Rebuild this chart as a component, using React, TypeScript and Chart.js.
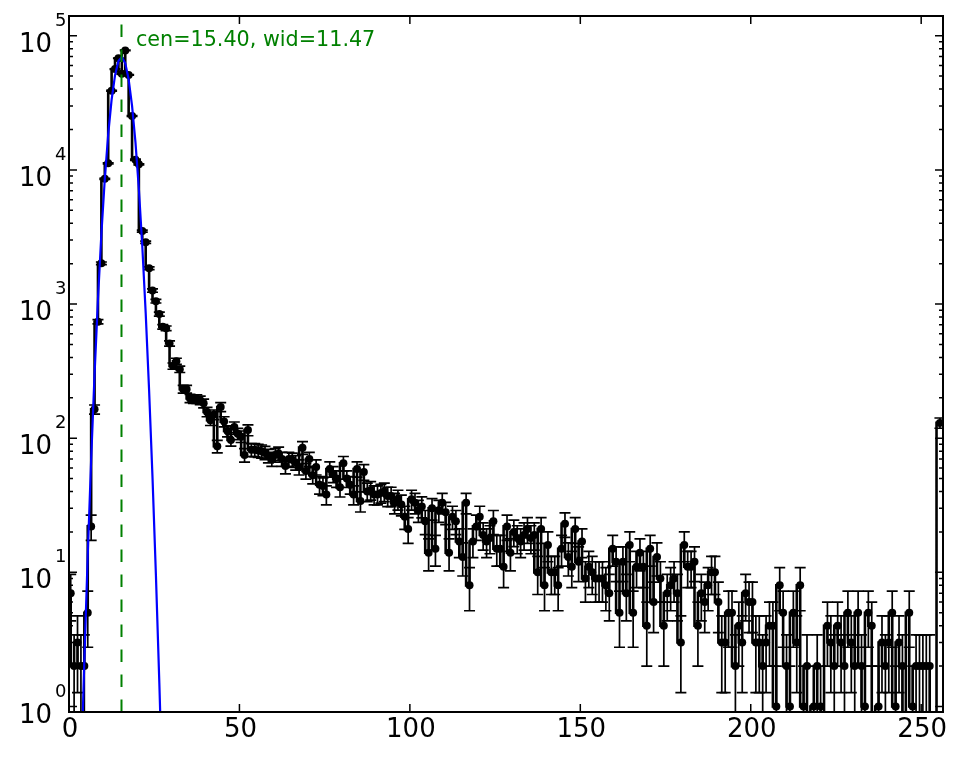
import React, { useEffect, useRef } from "react";
import { Chart, registerables } from "chart.js";

Chart.register(...registerables);

// Histogram counts per bin (bins 0..255)
const counts: number[] = [
  7, 2, 3, 2, 2, 5, 22, 164, 738, 2013,
  8570, 11200, 38900, 56400, 68000, 52000, 77700, 51000, 25200, 11900,
  11000, 3500, 2890, 1850, 1260, 1050, 842, 676, 660, 509,
  345, 375, 327, 232, 232, 198, 196, 196, 192, 182,
  157, 136, 150, 87, 171, 133, 113, 97, 121, 108,
  103, 75, 115, 82, 82, 81, 80, 78, 74, 70,
  75, 77, 70, 62, 70, 69, 66, 61, 85, 57,
  70, 53, 61, 45, 44, 38, 59, 54, 50, 43,
  65, 50, 45, 38, 59, 34, 56, 40, 41, 38,
  38, 39, 40, 37, 37, 33, 35, 32, 26, 21,
  35, 33, 29, 31, 24, 14, 30, 15, 29, 33,
  28, 14, 26, 24, 17, 13, 33, 8, 17, 22,
  26, 19, 17, 18, 24, 15, 15, 11, 22, 14,
  20, 18, 17, 19, 21, 18, 19, 10, 21, 8,
  16, 10, 10, 8, 15, 23, 13, 11, 21, 12,
  17, 9, 11, 10, 9, 9, 9, 8, 7, 15,
  12, 5, 12, 7, 16, 5, 11, 14, 11, 4,
  15, 6, 13, 9, 4, 7, 8, 9, 7, 3,
  16, 11, 11, 12, 4, 7, 6, 8, 10, 10,
  6, 3, 3, 5, 5, 2, 4, 3, 7, 6,
  6, 3, 3, 2, 3, 4, 4, 1, 8, 5,
  2, 1, 5, 3, 8, 1, 2, 0, 1, 2,
  1, 0, 4, 3, 2, 4, 3, 2, 5, 3,
  2, 5, 2, 1, 5, 4, 0, 1, 3, 2,
  3, 5, 1, 3, 2, 0, 5, 1, 2, 2,
  2, 2, 2, 0, 0, 130,
];

// bin centres
const binCenters: number[] = counts.map((_, i) => i + 0.5);
// Poisson error bars
const errors: number[] = counts.map((n) => Math.sqrt(n));

// Gaussian fit curve (blue), sampled at bin centres
const fitX: number[] = [
  3.5, 4.5, 5.5, 6.5, 7.5, 8.5, 9.5, 10.5, 11.5, 12.5, 13.5, 14.5, 15.5,
  16.5, 17.5, 18.5, 19.5, 20.5, 21.5, 22.5, 23.5, 24.5, 25.5, 26.5, 27.5,
];
const fitValues: number[] = [
  0.3, 2.2, 13.5, 69.5, 301, 1093, 3338, 8557, 18426, 33340, 50660, 64670,
  69340, 62450, 47250, 30020, 16030, 7185, 2708, 856, 227, 50.8, 9.5, 1.5, 0.2,
];

const fitCenter = 15.4;
const fitLabel = "cen=15.40, wid=11.47";

const xTicks: number[] = [0, 50, 100, 150, 200, 250];
const yDecades: number[] = [0, 1, 2, 3, 4, 5];

const X_MIN = 0;
const X_MAX = 256.4;
const Y_MIN = 0.91;
const Y_MAX = 140300;
const LOG_FLOOR = 0.01; // where empty bins are drawn (below the axis)

const FONT = '"DejaVu Sans", "Liberation Sans", sans-serif';

const decorPlugin = {
  id: "decor",
  beforeDatasetsDraw(chart: any) {
    const { ctx, chartArea: a, scales } = chart;
    const xs = scales.x;
    const ys = scales.y;
    const CAP = 5.5;
    ctx.save();
    ctx.beginPath();
    ctx.rect(a.left, a.top, a.right - a.left, a.bottom - a.top);
    ctx.clip();
    ctx.strokeStyle = "#000";
    ctx.lineWidth = 1.7;
    counts.forEach((n, i) => {
      if (n <= 0) return;
      const e = errors[i];
      const px = xs.getPixelForValue(binCenters[i]);
      const hi = ys.getPixelForValue(n + e);
      const lowVal = n - e;
      const lo = lowVal > 0 ? ys.getPixelForValue(lowVal) : a.bottom + 20;
      ctx.beginPath();
      ctx.moveTo(px, lo);
      ctx.lineTo(px, hi);
      ctx.moveTo(px - CAP, hi);
      ctx.lineTo(px + CAP, hi);
      if (lowVal > 0) {
        ctx.moveTo(px - CAP, lo);
        ctx.lineTo(px + CAP, lo);
      }
      ctx.stroke();
    });
    ctx.restore();
  },
  afterDatasetsDraw(chart: any) {
    const { ctx, chartArea: a, scales } = chart;
    const px = scales.x.getPixelForValue(fitCenter);
    ctx.save();
    ctx.strokeStyle = "#008000";
    ctx.lineWidth = 2;
    ctx.setLineDash([12.5, 12.5]);
    ctx.beginPath();
    ctx.moveTo(px, a.bottom);
    ctx.lineTo(px, a.top);
    ctx.stroke();
    ctx.setLineDash([]);
    ctx.fillStyle = "#008000";
    ctx.font = `20.7px ${FONT}`;
    ctx.textAlign = "left";
    ctx.textBaseline = "alphabetic";
    ctx.fillText(fitLabel, 136, 45.5);
    ctx.restore();
  },
  afterDraw(chart: any) {
    const { ctx, chartArea: a, scales } = chart;
    const xs = scales.x;
    const ys = scales.y;
    ctx.save();
    ctx.strokeStyle = "#000";
    // ticks
    ctx.lineWidth = 1.5;
    ctx.beginPath();
    xTicks.forEach((t) => {
      const px = xs.getPixelForValue(t);
      ctx.moveTo(px, a.bottom);
      ctx.lineTo(px, a.bottom - 8);
      ctx.moveTo(px, a.top);
      ctx.lineTo(px, a.top + 8);
    });
    yDecades.forEach((d) => {
      for (let k = 1; k <= 9; k++) {
        const v = k * Math.pow(10, d);
        if (v < Y_MIN || v > Y_MAX) continue;
        const py = ys.getPixelForValue(v);
        const len = k === 1 ? 8 : 4;
        ctx.moveTo(a.left, py);
        ctx.lineTo(a.left + len, py);
        ctx.moveTo(a.right, py);
        ctx.lineTo(a.right - len, py);
      }
    });
    ctx.stroke();
    // frame
    ctx.lineWidth = 2;
    ctx.strokeRect(a.left, a.top, a.right - a.left, a.bottom - a.top);
    // labels
    ctx.fillStyle = "#000";
    ctx.font = `26px ${FONT}`;
    ctx.textAlign = "center";
    ctx.textBaseline = "alphabetic";
    xTicks.forEach((t) => {
      ctx.fillText(String(t), xs.getPixelForValue(t) + 1, 737);
    });
    yDecades.forEach((d) => {
      const py = ys.getPixelForValue(Math.pow(10, d));
      ctx.font = `26px ${FONT}`;
      ctx.textAlign = "right";
      ctx.fillText("10", 52, py + 16);
      ctx.font = `18px ${FONT}`;
      ctx.textAlign = "left";
      ctx.fillText(String(d), 55, py - 10);
    });
    ctx.restore();
  },
};

export default function App() {
  const canvasRef = useRef<HTMLCanvasElement | null>(null);

  useEffect(() => {
    const canvas = canvasRef.current;
    if (!canvas) return;
    const chart = new Chart(canvas, {
      type: "line",
      data: {
        datasets: [
          {
            label: "fit",
            data: fitX.map((x, i) => ({ x, y: fitValues[i] })),
            borderColor: "#0000ff",
            borderWidth: 2.2,
            pointRadius: 0,
            tension: 0,
            order: 0,
            clip: 0,
          },
          {
            label: "counts",
            data: binCenters.map((x, i) => ({
              x,
              y: counts[i] > 0 ? counts[i] : LOG_FLOOR,
            })),
            borderColor: "#000",
            borderWidth: 2.6,
            stepped: "after",
            pointRadius: (c: any) => (counts[c.dataIndex] > 0 ? 4 : 0),
            pointBackgroundColor: "#000",
            pointBorderWidth: 0,
            tension: 0,
            order: 1,
            clip: 0,
          },
        ],
      } as any,
      options: {
        animation: false,
        responsive: false,
        devicePixelRatio: 1,
        events: [],
        layout: { padding: { top: 16, right: 22, left: 0, bottom: 0 } },
        plugins: {
          legend: { display: false },
          tooltip: { enabled: false },
        },
        scales: {
          x: {
            type: "linear",
            min: X_MIN,
            max: X_MAX,
            grid: { display: false },
            border: { display: false },
            ticks: { display: false },
            afterFit: (s: any) => {
              s.height = 45;
            },
          },
          y: {
            type: "logarithmic",
            min: Y_MIN,
            max: Y_MAX,
            grid: { display: false },
            border: { display: false },
            ticks: { display: false },
            afterFit: (s: any) => {
              s.width = 69;
            },
          },
        },
      } as any,
      plugins: [decorPlugin],
    });
    return () => chart.destroy();
  }, []);

  return (
    <div
      style={{
        position: "absolute",
        left: 0,
        top: 0,
        width: 965,
        height: 757,
        background: "#fff",
      }}
    >
      <canvas
        ref={canvasRef}
        width={965}
        height={757}
        style={{ display: "block", width: 965, height: 757 }}
      />
    </div>
  );
}
